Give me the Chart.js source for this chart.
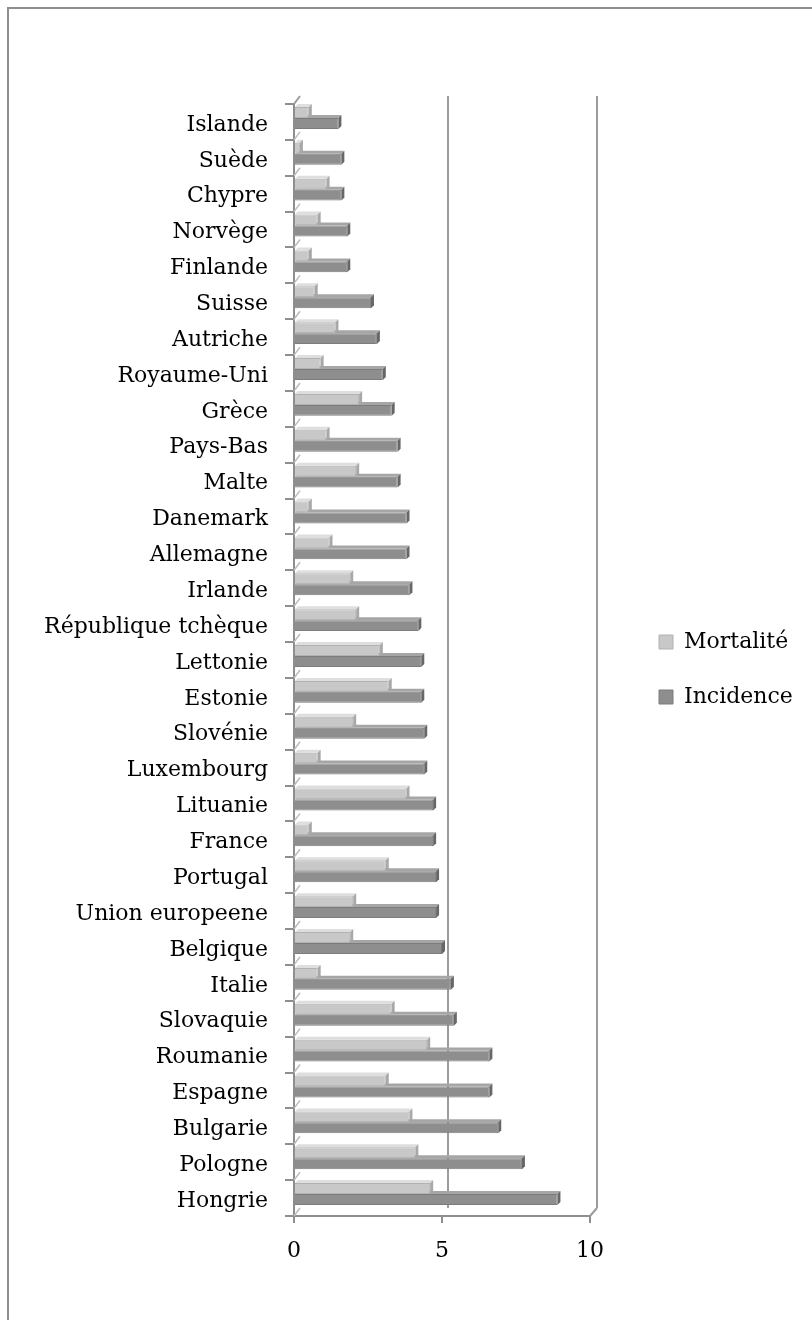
<!DOCTYPE html>
<html>
<head>
<meta charset="utf-8">
<script src="https://cdn.jsdelivr.net/npm/chart.js@4.4.1/dist/chart.umd.min.js"></script>
<style>
  html, body { margin: 0; padding: 0; background: #fff; overflow: hidden; }
  #frame { position: absolute; left: 7px; top: 7px; width: 900px; height: 1400px; border: 2px solid #8e8e8e; }
  #wrap { position: absolute; left: 0; top: 0; width: 860px; height: 1320px; }
</style>
</head>
<body>
<div id="frame"></div>
<div id="wrap"><canvas id="chart"></canvas></div>
<script>
// categories, top to bottom
var countries = ['Islande', 'Suède', 'Chypre', 'Norvège', 'Finlande', 'Suisse', 'Autriche',
  'Royaume-Uni', 'Grèce', 'Pays-Bas', 'Malte', 'Danemark', 'Allemagne', 'Irlande',
  'République tchèque', 'Lettonie', 'Estonie', 'Slovénie', 'Luxembourg', 'Lituanie',
  'France', 'Portugal', 'Union europeene', 'Belgique', 'Italie', 'Slovaquie', 'Roumanie',
  'Espagne', 'Bulgarie', 'Pologne', 'Hongrie'];

var mortalite = [0.5, 0.2, 1.1, 0.8, 0.5, 0.7, 1.4, 0.9, 2.2, 1.1, 2.1, 0.5, 1.2, 1.9,
  2.1, 2.9, 3.2, 2.0, 0.8, 3.8, 0.5, 3.1, 2.0, 1.9, 0.8, 3.3, 4.5, 3.1, 3.9, 4.1, 4.6];

var incidence = [1.5, 1.6, 1.6, 1.8, 1.8, 2.6, 2.8, 3.0, 3.3, 3.5, 3.5, 3.8, 3.8, 3.9,
  4.2, 4.3, 4.3, 4.4, 4.4, 4.7, 4.7, 4.8, 4.8, 5.0, 5.3, 5.4, 6.6, 6.6, 6.9, 7.7, 8.9];

var xTicks = [0, 5, 10];

var seriesNames = ['Mortalité', 'Incidence'];

Chart.defaults.font.family = '"DejaVu Serif", serif';
Chart.defaults.font.size = 22;
Chart.defaults.color = '#000';

var gray = '#8e8e8e';

// faces of the 3D look
var faceColors = [
  { top: '#dedede', side: '#a8a8a8' },
  { top: '#a6a6a6', side: '#676767' }
];
var d = 3;

var depth3d = {
  id: 'depth3d',
  beforeDatasetsDraw: function(chart) {
    var ctx = chart.ctx, xs = chart.scales.x, ys = chart.scales.y;
    var top = ys.top, bottom = ys.bottom;
    ctx.save();
    ctx.strokeStyle = '#9c9c9c';
    ctx.lineWidth = 2;
    // back wall grid lines
    xTicks.forEach(function(v) {
      if (v === 0) return;
      var bx = xs.getPixelForValue(v) + 5 + 0.2 * v;
      ctx.beginPath();
      ctx.moveTo(bx, top - 8);
      ctx.lineTo(bx, bottom - 8);
      ctx.stroke();
    });
    // floor edge on the right
    var rx = xs.getPixelForValue(10);
    ctx.beginPath();
    ctx.moveTo(rx, bottom);
    ctx.lineTo(rx + 7, bottom - 8);
    ctx.stroke();
    // left wall
    var lx = xs.getPixelForValue(0);
    ctx.beginPath();
    ctx.moveTo(lx, top);
    ctx.lineTo(lx + 6, top - 8);
    ctx.stroke();
    ctx.lineWidth = 1.5;
    ctx.strokeStyle = '#bdbdbd';
    var step = (bottom - top) / countries.length;
    for (var i = 1; i <= countries.length; i++) {
      var b = top + i * step;
      ctx.beginPath();
      ctx.moveTo(lx, b);
      ctx.lineTo(lx + 6, b - 8);
      ctx.stroke();
    }
    ctx.restore();

    ctx.save();
    ctx.translate(0, -4);
    // top faces, drawn under the bars
    chart.data.datasets.forEach(function(ds, i) {
      ctx.fillStyle = faceColors[i].top;
      chart.getDatasetMeta(i).data.forEach(function(bar) {
        var p = bar.getProps(['x', 'y', 'base', 'height'], true);
        var t = p.y - p.height / 2;
        ctx.beginPath();
        ctx.moveTo(p.base, t);
        ctx.lineTo(p.base + d, t - d);
        ctx.lineTo(p.x + d, t - d);
        ctx.lineTo(p.x, t);
        ctx.closePath();
        ctx.fill();
      });
    });
  },
  afterDatasetsDraw: function(chart) {
    var ctx = chart.ctx;
    chart.data.datasets.forEach(function(ds, i) {
      ctx.fillStyle = faceColors[i].side;
      chart.getDatasetMeta(i).data.forEach(function(bar) {
        var p = bar.getProps(['x', 'y', 'base', 'height'], true);
        var t = p.y - p.height / 2, b = p.y + p.height / 2;
        ctx.beginPath();
        ctx.moveTo(p.x, t);
        ctx.lineTo(p.x + d, t - d);
        ctx.lineTo(p.x + d, b - d);
        ctx.lineTo(p.x, b);
        ctx.closePath();
        ctx.fill();
      });
    });
    ctx.restore();
  }
};

var ctx = document.getElementById('chart').getContext('2d');

var chart = new Chart(ctx, {
  type: 'bar',
  data: {
    labels: countries,
    datasets: [{
      label: seriesNames[0],
      data: mortalite,
      backgroundColor: '#c8c8c8',
      borderColor: '#b2b2b2',
      borderWidth: 1,
      xAxisID: 'x',
      yAxisID: 'y'
    }, {
      label: seriesNames[1],
      data: incidence,
      backgroundColor: '#8e8e8e',
      borderColor: '#7c7c7c',
      borderWidth: 1,
      xAxisID: 'x',
      yAxisID: 'y'
    }]
  },
  options: {
    indexAxis: 'y',
    responsive: true,
    maintainAspectRatio: false,
    animation: false,
    categoryPercentage: 0.61,
    barPercentage: 1,
    layout: { padding: { top: 104, left: 0, bottom: 0, right: 40 } },
    plugins: {
      legend: {
        position: 'right',
        align: 'center',
        fullSize: false,
        title: { display: true, text: '', font: { size: 10, lineHeight: 1 }, padding: { top: 9, bottom: 0 } },
        labels: { boxWidth: 14, boxHeight: 14, padding: 33, color: '#000', font: { size: 22 } }
      },
      tooltip: { enabled: false }
    },
    scales: {
      x: {
        min: 0,
        max: 10,
        ticks: { stepSize: 5, padding: 15, color: '#000', font: { size: 22 } },
        grid: { drawOnChartArea: false, tickLength: 7, color: gray, lineWidth: 2 },
        border: { color: gray, width: 2 },
        afterFit: function(s) { s.height = 104; }
      },
      y: {
        type: 'category',
        grid: { offset: true, drawOnChartArea: false, tickLength: 9, color: gray, lineWidth: 2 },
        border: { color: gray, width: 2 },
        ticks: { padding: 17, labelOffset: 3, autoSkip: false, color: '#000', font: { size: 22 } },
        afterFit: function(s) { s.width = 294; }
      },
      // empty space between the plot and the legend
      gap: {
        axis: 'y',
        type: 'linear',
        position: 'right',
        display: false,
        afterFit: function(s) { s.width = 36; }
      }
    }
  },
  plugins: [depth3d]
});

// put the legend swatches at x = 659, as in the reference
var shift = chart.legend.left + chart.options.plugins.legend.labels.padding - 659;
chart.options.layout.padding.right += shift;
chart.update();
</script>
</body>
</html>
